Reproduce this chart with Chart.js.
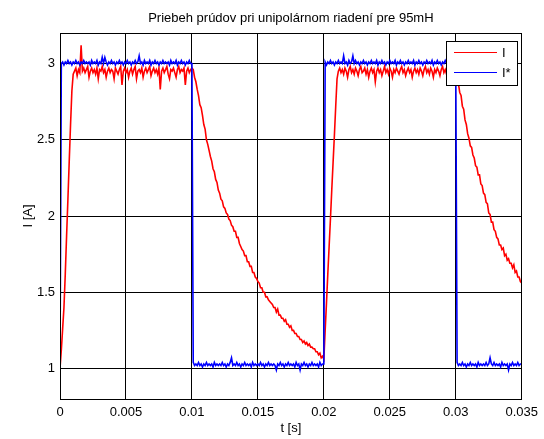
<!DOCTYPE html>
<html>
<head>
<meta charset="utf-8">
<script src="https://cdn.jsdelivr.net/npm/chart.js@4.4.1/dist/chart.umd.min.js"></script>
<style>
  html, body { margin: 0; padding: 0; background: #fff; }
  #wrap { width: 544px; height: 439px; position: relative; }
</style>
</head>
<body>
<div id="wrap"><canvas id="chart"></canvas></div>
<script>
const chartTitle = 'Priebeh prúdov pri unipolárnom riadení pre 95mH';
const xAxisTitle = 't [s]';
const yAxisTitle = 'I [A]';
const seriesNames = ['I', 'I*'];
const xTicks = [0, 0.005, 0.01, 0.015, 0.02, 0.025, 0.03, 0.035];
const yTicks = [1, 1.5, 2, 2.5, 3];

// one sample every 0.1 ms, t = 0 ... 0.035 s
const sampleStep = 0.0001;

// measured current I (red)
const currentMeasured = [
  1.00, 1.12, 1.26, 1.40, 1.62, 1.87, 2.11, 2.36, 2.60, 2.82,
  2.93, 2.95, 2.97, 2.92, 2.96, 2.94, 3.12, 2.95, 2.97, 2.94,
  2.96, 2.98, 2.91, 2.95, 2.97, 2.94, 2.96, 2.93, 2.97, 2.90,
  2.96, 2.95, 2.98, 2.94, 2.96, 2.91, 2.95, 2.97, 2.94, 2.96,
  2.95, 2.90, 2.97, 2.95, 2.93, 2.96, 2.98, 2.86, 2.95, 2.97,
  2.94, 2.96, 2.91, 2.95, 2.97, 2.93, 2.96, 2.98, 2.90, 2.95,
  2.96, 2.94, 2.97, 2.91, 2.95, 2.97, 2.94, 2.96, 2.98, 2.92,
  2.95, 2.97, 2.94, 2.96, 2.93, 2.97, 2.83, 2.95, 2.97, 2.94,
  2.96, 2.98, 2.93, 2.90, 2.96, 2.95, 2.97, 2.94, 2.91, 2.96,
  2.98, 2.94, 2.96, 2.95, 2.97, 2.86, 2.95, 2.97, 2.94, 2.96,
  2.97, 2.96, 2.91, 2.88, 2.83, 2.79, 2.73, 2.71, 2.66, 2.60,
  2.57, 2.50, 2.47, 2.43, 2.39, 2.36, 2.31, 2.29, 2.24, 2.22,
  2.17, 2.15, 2.11, 2.10, 2.06, 2.05, 2.02, 2.01, 1.98, 1.97,
  1.94, 1.93, 1.90, 1.90, 1.86, 1.86, 1.82, 1.80, 1.78, 1.77,
  1.74, 1.74, 1.70, 1.70, 1.67, 1.67, 1.63, 1.63, 1.60, 1.59,
  1.57, 1.56, 1.53, 1.53, 1.50, 1.50, 1.47, 1.47, 1.45, 1.44,
  1.43, 1.42, 1.40, 1.40, 1.37, 1.39, 1.35, 1.35, 1.33, 1.33,
  1.31, 1.32, 1.29, 1.29, 1.27, 1.28, 1.25, 1.25, 1.23, 1.23,
  1.21, 1.21, 1.19, 1.19, 1.17, 1.18, 1.16, 1.17, 1.15, 1.16,
  1.14, 1.14, 1.13, 1.13, 1.11, 1.11, 1.09, 1.10, 1.07, 1.08,
  1.06, 1.25, 1.43, 1.62, 1.80, 1.98, 2.17, 2.35, 2.53, 2.72,
  2.90, 2.95, 2.97, 2.94, 2.96, 2.93, 2.97, 2.95, 2.91, 2.96,
  2.98, 2.94, 2.96, 2.93, 2.97, 2.95, 2.92, 2.96, 2.98, 2.94,
  2.95, 2.97, 2.93, 2.96, 2.91, 2.95, 2.97, 2.94, 2.96, 2.88,
  2.95, 2.97, 2.94, 2.96, 2.92, 2.95, 2.98, 2.94, 2.96, 2.93,
  2.97, 2.95, 2.91, 2.96, 2.94, 2.97, 2.95, 2.93, 2.96, 2.98,
  2.94, 2.96, 2.92, 2.95, 2.97, 2.94, 2.96, 2.91, 2.95, 2.97,
  2.94, 2.96, 2.93, 2.97, 2.95, 2.92, 2.96, 2.98, 2.94, 2.96,
  2.93, 2.97, 2.95, 2.91, 2.96, 2.94, 2.97, 2.95, 2.92, 2.96,
  2.98, 2.94, 2.96, 2.93, 2.97, 2.95, 2.91, 2.96, 2.94, 2.97,
  2.97, 2.93, 2.87, 2.81, 2.79, 2.72, 2.70, 2.63, 2.60, 2.54,
  2.51, 2.46, 2.45, 2.40, 2.38, 2.33, 2.32, 2.27, 2.27, 2.21,
  2.20, 2.15, 2.14, 2.09, 2.08, 2.02, 2.01, 1.96, 1.96, 1.91,
  1.90, 1.86, 1.85, 1.81, 1.81, 1.78, 1.79, 1.74, 1.75, 1.71,
  1.72, 1.69, 1.69, 1.66, 1.68, 1.63, 1.64, 1.60, 1.60, 1.57,
  1.56
];

// reference current I* (blue)
const currentReference = [
  1.00, 3.00, 3.01, 2.99, 3.01, 3.00, 3.02, 3.00, 3.01, 2.99,
  3.01, 3.00, 3.02, 3.00, 3.01, 2.99, 3.01, 3.00, 3.02, 3.00,
  3.01, 3.00, 3.01, 2.99, 3.02, 3.00, 3.01, 3.00, 3.02, 2.99,
  3.01, 3.00, 3.04, 3.00, 3.04, 3.01, 2.99, 3.01, 3.00, 3.02,
  3.00, 3.01, 2.99, 3.01, 3.00, 3.02, 3.00, 3.01, 2.99, 3.01,
  3.00, 3.02, 3.00, 3.01, 2.99, 3.01, 3.00, 3.02, 3.00, 3.01,
  3.05, 3.00, 3.01, 2.99, 3.02, 3.00, 3.01, 3.00, 3.02, 2.99,
  3.01, 3.00, 3.02, 3.00, 3.01, 2.99, 3.01, 3.00, 3.02, 3.00,
  3.01, 3.00, 3.01, 2.99, 3.02, 3.00, 3.01, 3.00, 3.02, 2.99,
  3.01, 3.00, 3.02, 3.00, 3.01, 2.99, 3.01, 3.00, 3.02, 3.00,
  3.00, 1.04, 1.02, 1.03, 1.02, 1.04, 1.02, 1.03, 1.01, 1.03,
  1.02, 1.04, 1.02, 1.03, 1.02, 1.03, 1.01, 1.04, 1.02, 1.03,
  1.02, 1.03, 1.02, 1.04, 1.02, 1.03, 1.01, 1.03, 1.02, 1.04,
  1.07, 1.02, 1.03, 1.02, 1.04, 1.02, 1.03, 1.01, 1.03, 1.02,
  1.04, 1.02, 1.03, 1.02, 1.03, 1.01, 1.04, 1.02, 1.03, 1.02,
  1.03, 1.02, 1.04, 1.02, 1.03, 1.01, 1.03, 1.02, 1.04, 1.02,
  1.03, 1.02, 1.03, 1.02, 0.99, 1.03, 1.02, 1.04, 1.02, 1.03,
  1.01, 1.03, 1.02, 1.04, 1.02, 1.03, 1.02, 1.03, 1.01, 1.04,
  1.02, 1.03, 0.99, 1.03, 1.02, 1.04, 1.02, 1.03, 1.01, 1.03,
  1.02, 1.04, 1.02, 1.03, 1.02, 1.03, 1.01, 1.04, 1.02, 1.03,
  1.03, 3.01, 2.99, 3.01, 3.00, 3.02, 3.00, 3.01, 2.99, 3.01,
  3.00, 3.02, 3.00, 3.01, 3.00, 3.05, 3.00, 3.01, 2.99, 3.02,
  3.00, 3.01, 3.05, 3.00, 3.02, 3.00, 3.01, 2.99, 3.01, 3.00,
  3.02, 3.00, 3.01, 2.99, 3.01, 3.00, 3.02, 3.00, 3.01, 3.00,
  3.02, 2.99, 3.01, 3.00, 3.02, 3.00, 3.01, 2.99, 3.01, 3.00,
  3.02, 3.00, 3.01, 3.00, 3.02, 2.99, 3.01, 3.00, 3.02, 3.00,
  3.01, 2.99, 3.01, 3.00, 3.02, 3.00, 3.01, 3.00, 3.02, 2.99,
  3.01, 3.00, 3.02, 3.00, 3.01, 2.99, 3.01, 3.00, 3.02, 3.00,
  3.01, 3.00, 3.02, 2.99, 3.01, 3.00, 3.02, 3.00, 3.01, 2.99,
  3.01, 3.00, 3.02, 3.00, 3.01, 3.00, 3.02, 2.99, 3.01, 3.00,
  3.00, 1.04, 1.02, 1.03, 1.02, 1.04, 1.02, 1.03, 1.01, 1.03,
  1.02, 1.04, 1.02, 1.03, 1.02, 1.03, 1.01, 1.04, 1.02, 1.03,
  1.02, 1.03, 1.02, 1.04, 1.02, 1.03, 1.07, 1.03, 1.02, 1.04,
  1.02, 1.03, 1.02, 1.03, 1.01, 1.04, 1.02, 1.03, 1.02, 1.03,
  0.99, 1.03, 1.02, 1.04, 1.02, 1.03, 1.02, 1.04, 1.02, 1.03,
  1.03
];

const FONT = '"Liberation Sans", Arial, Helvetica, sans-serif';
const RED = '#ff0000', BLUE = '#0000ff';

function to_points(values) {
	return values.map((v, i) => ({ x: +(i * sampleStep).toFixed(4), y: v }));
}

// box, title, axis titles and legend, drawn the way matlab does it
const matlab_frame = {
	id: 'matlabFrame',
	afterDraw(chart) {
		let ctx = chart.ctx, a = chart.chartArea;
		ctx.save();
		ctx.strokeStyle = '#000';
		ctx.lineWidth = 1;
		ctx.strokeRect(Math.round(a.left) + 0.5, Math.round(a.top) + 0.5,
			Math.round(a.right - a.left) - 1, Math.round(a.bottom - a.top));

		ctx.fillStyle = '#000';
		ctx.font = '13px ' + FONT;
		ctx.textAlign = 'center';
		ctx.textBaseline = 'middle';
		ctx.fillText(chartTitle, (a.left + a.right) / 2, 18);
		ctx.fillText(xAxisTitle, (a.left + a.right) / 2, 428);

		ctx.save();
		ctx.translate(28, (a.top + a.bottom) / 2);
		ctx.rotate(-Math.PI / 2);
		ctx.fillText(yAxisTitle, 0, 0);
		ctx.restore();

		// legend
		let lx = 446, ly = 41, lw = 71, lh = 44;
		ctx.fillStyle = '#fff';
		ctx.fillRect(lx, ly, lw, lh);
		ctx.strokeStyle = '#000';
		ctx.strokeRect(lx + 0.5, ly + 0.5, lw, lh);
		[[RED, 52], [BLUE, 72]].forEach(([col, y], i) => {
			ctx.strokeStyle = col;
			ctx.beginPath();
			ctx.moveTo(454, y + 0.5);
			ctx.lineTo(497, y + 0.5);
			ctx.stroke();
			ctx.fillStyle = '#000';
			ctx.textAlign = 'left';
			ctx.fillText(seriesNames[i], 502, y + 1);
		});
		ctx.restore();
	}
};

let ctx = document.getElementById('chart').getContext('2d');
new Chart(ctx, {
	type: 'line',
	data: {
		datasets: [{
			label: seriesNames[1],
			data: to_points(currentReference),
			borderColor: BLUE,
			borderWidth: 1.6,
			pointRadius: 0,
			tension: 0,
			fill: false
		}, {
			label: seriesNames[0],
			data: to_points(currentMeasured),
			borderColor: RED,
			borderWidth: 1.6,
			pointRadius: 0,
			tension: 0,
			fill: false
		}]
	},
	options: {
		responsive: true,
		maintainAspectRatio: false,
		animation: false,
		devicePixelRatio: 1,
		layout: { padding: { left: 0, top: 33, right: 21, bottom: 0 } },
		plugins: {
			legend: { display: false },
			tooltip: { enabled: false },
			title: { display: false }
		},
		scales: {
			x: {
				type: 'linear',
				min: 0,
				max: 0.035,
				afterBuildTicks: s => { s.ticks = xTicks.map(v => ({ value: v })); },
				afterFit: s => { s.height = 40; },
				grid: { color: '#000', lineWidth: 1, drawTicks: false },
				border: { display: false },
				ticks: {
					color: '#000',
					font: { family: FONT, size: 13 },
					padding: 6,
					maxRotation: 0,
					autoSkip: false,
					callback: v => String(+v.toFixed(3))
				}
			},
			y: {
				type: 'linear',
				min: 0.8,
				max: 3.2,
				afterBuildTicks: s => { s.ticks = yTicks.map(v => ({ value: v })); },
				afterFit: s => { s.width = 60; },
				grid: { color: '#000', lineWidth: 1, drawTicks: false },
				border: { display: false },
				ticks: {
					color: '#000',
					font: { family: FONT, size: 13 },
					padding: 5,
					autoSkip: false,
					callback: v => String(v)
				}
			}
		}
	},
	plugins: [matlab_frame]
});
</script>
</body>
</html>
